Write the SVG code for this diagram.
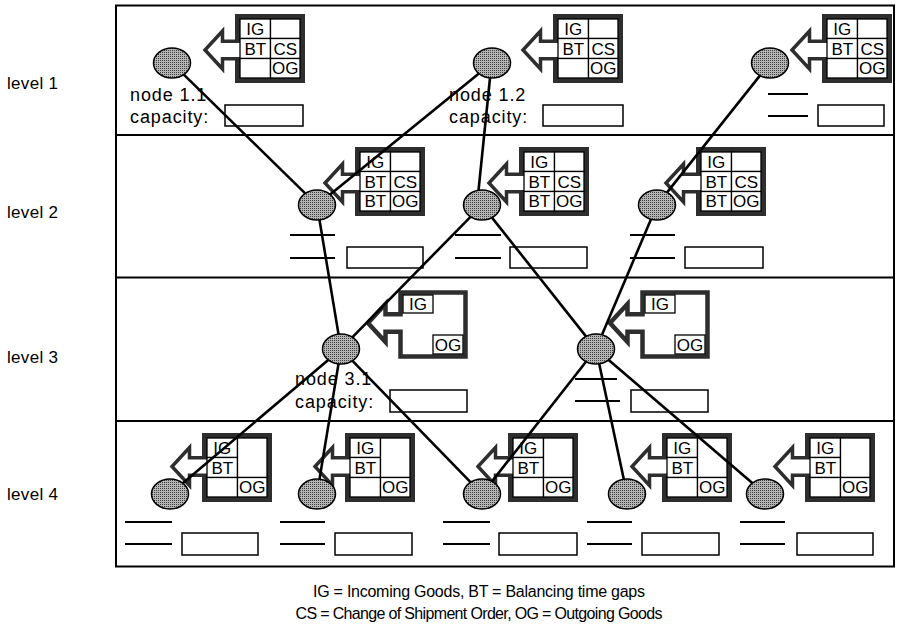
<svg xmlns="http://www.w3.org/2000/svg" width="904" height="628" viewBox="0 0 904 628">
<defs>
<pattern id="dots" width="2" height="2" patternUnits="userSpaceOnUse"><rect width="2" height="2" fill="#b4b4b4"/><rect width="1" height="1" fill="#404040"/></pattern>
<style>
text{font-family:"Liberation Sans",Arial,sans-serif;fill:#000}
.lvl{font-size:17px;letter-spacing:0.3px}
.nl{font-size:18px;letter-spacing:0.9px}
.ct{font-size:17px;text-anchor:middle}
.lg{font-size:16px;text-anchor:middle}
.band{fill:#fff;stroke:#2e2e2e;stroke-width:5}
.arw{fill:#fff;stroke:#2e2e2e;stroke-width:3.5;stroke-linejoin:miter}
.b3{fill:#fff;stroke:#2e2e2e;stroke-width:4.5;stroke-linejoin:miter}
.cell{fill:#fff;stroke:#000;stroke-width:1.3}
.cap{fill:#fff;stroke:#000;stroke-width:1.5}
.bl{stroke:#000;stroke-width:1.8}
.nd{fill:url(#dots);stroke:#000;stroke-width:1.5}
.frame{fill:none;stroke:#000;stroke-width:2}
#connectors line{stroke:#000;stroke-width:2.6;stroke-linecap:butt}
</style>
</defs>
<rect width="904" height="628" fill="#fff"/>
<g id="frame">
<rect class="frame" x="116" y="5.5" width="778" height="561"/>
<line class="frame" x1="116" y1="135" x2="894" y2="135"/>
<line class="frame" x1="116" y1="277.5" x2="894" y2="277.5"/>
<line class="frame" x1="116" y1="421" x2="894" y2="421"/>
</g>
<g id="level-labels">
<text class="lvl" x="7" y="89">level 1</text>
<text class="lvl" x="7" y="218">level 2</text>
<text class="lvl" x="7" y="363">level 3</text>
<text class="lvl" x="7" y="500">level 4</text>
</g>

<!-- level 1 -->
<g id="node-1-1">
<g transform="translate(235,14)">
<rect class="band" x="2.5" y="2.5" width="65" height="64"/>
<path class="arw" d="M5,27.3 H-12.5 V17 L-30,36 L-12.5,55 V44.7 H5"/>
<rect class="cell" x="5" y="5" width="30.5" height="19.5"/><rect class="cell" x="35.5" y="5" width="29.5" height="19.5"/>
<rect class="cell" x="5" y="24.5" width="30.5" height="20"/><rect class="cell" x="35.5" y="24.5" width="29.5" height="20"/>
<rect class="cell" x="5" y="44.5" width="30.5" height="19.5"/><rect class="cell" x="35.5" y="44.5" width="29.5" height="19.5"/>
<text class="ct" x="20.25" y="20.8">IG</text><text class="ct" x="20.25" y="40.6">BT</text><text class="ct" x="50.25" y="40.6">CS</text><text class="ct" x="50.25" y="60.3">OG</text>
</g>
<text class="nl" x="130" y="101">node 1.1</text>
<text class="nl" x="130" y="123">capacity:</text>
<rect class="cap" x="225" y="105" width="78" height="21"/>
<ellipse class="nd" cx="172" cy="63" rx="18.5" ry="15"/>
</g>
<g id="node-1-2">
<g transform="translate(553,14)">
<rect class="band" x="2.5" y="2.5" width="65" height="64"/>
<path class="arw" d="M5,27.3 H-12.5 V17 L-30,36 L-12.5,55 V44.7 H5"/>
<rect class="cell" x="5" y="5" width="30.5" height="19.5"/><rect class="cell" x="35.5" y="5" width="29.5" height="19.5"/>
<rect class="cell" x="5" y="24.5" width="30.5" height="20"/><rect class="cell" x="35.5" y="24.5" width="29.5" height="20"/>
<rect class="cell" x="5" y="44.5" width="30.5" height="19.5"/><rect class="cell" x="35.5" y="44.5" width="29.5" height="19.5"/>
<text class="ct" x="20.25" y="20.8">IG</text><text class="ct" x="20.25" y="40.6">BT</text><text class="ct" x="50.25" y="40.6">CS</text><text class="ct" x="50.25" y="60.3">OG</text>
</g>
<text class="nl" x="449" y="101">node 1.2</text>
<text class="nl" x="449" y="123">capacity:</text>
<rect class="cap" x="543" y="105" width="80" height="21"/>
<ellipse class="nd" cx="492" cy="63" rx="18.5" ry="15"/>
</g>
<g id="node-1-3">
<g transform="translate(822,14)">
<rect class="band" x="2.5" y="2.5" width="65" height="64"/>
<path class="arw" d="M5,27.3 H-12.5 V17 L-30,36 L-12.5,55 V44.7 H5"/>
<rect class="cell" x="5" y="5" width="30.5" height="19.5"/><rect class="cell" x="35.5" y="5" width="29.5" height="19.5"/>
<rect class="cell" x="5" y="24.5" width="30.5" height="20"/><rect class="cell" x="35.5" y="24.5" width="29.5" height="20"/>
<rect class="cell" x="5" y="44.5" width="30.5" height="19.5"/><rect class="cell" x="35.5" y="44.5" width="29.5" height="19.5"/>
<text class="ct" x="20.25" y="20.8">IG</text><text class="ct" x="20.25" y="40.6">BT</text><text class="ct" x="50.25" y="40.6">CS</text><text class="ct" x="50.25" y="60.3">OG</text>
</g>
<line class="bl" x1="768" y1="94" x2="808" y2="94"/>
<line class="bl" x1="768" y1="116" x2="808" y2="116"/>
<rect class="cap" x="818" y="105" width="66" height="21"/>
<ellipse class="nd" cx="770" cy="63" rx="18.5" ry="15"/>
</g>

<!-- level 2 -->
<g id="node-2-1">
<g transform="translate(355,147)">
<rect class="band" x="2.5" y="2.5" width="65" height="64"/>
<path class="arw" d="M5,27.3 H-12.5 V17 L-30,36 L-12.5,55 V44.7 H5"/>
<rect class="cell" x="5" y="5" width="30.5" height="19.5"/><rect class="cell" x="35.5" y="5" width="29.5" height="19.5"/>
<rect class="cell" x="5" y="24.5" width="30.5" height="20"/><rect class="cell" x="35.5" y="24.5" width="29.5" height="20"/>
<rect class="cell" x="5" y="44.5" width="30.5" height="19.5"/><rect class="cell" x="35.5" y="44.5" width="29.5" height="19.5"/>
<text class="ct" x="20.25" y="20.8">IG</text><text class="ct" x="20.25" y="40.6">BT</text><text class="ct" x="50.25" y="40.6">CS</text><text class="ct" x="20.25" y="60.3">BT</text><text class="ct" x="50.25" y="60.3">OG</text>
</g>
<line class="bl" x1="290" y1="235" x2="335" y2="235"/>
<line class="bl" x1="290" y1="258" x2="335" y2="258"/>
<rect class="cap" x="347" y="247" width="76" height="21"/>
<ellipse class="nd" cx="317" cy="205" rx="18.5" ry="15"/>
</g>
<g id="node-2-2">
<g transform="translate(519,147)">
<rect class="band" x="2.5" y="2.5" width="65" height="64"/>
<path class="arw" d="M5,27.3 H-12.5 V17 L-30,36 L-12.5,55 V44.7 H5"/>
<rect class="cell" x="5" y="5" width="30.5" height="19.5"/><rect class="cell" x="35.5" y="5" width="29.5" height="19.5"/>
<rect class="cell" x="5" y="24.5" width="30.5" height="20"/><rect class="cell" x="35.5" y="24.5" width="29.5" height="20"/>
<rect class="cell" x="5" y="44.5" width="30.5" height="19.5"/><rect class="cell" x="35.5" y="44.5" width="29.5" height="19.5"/>
<text class="ct" x="20.25" y="20.8">IG</text><text class="ct" x="20.25" y="40.6">BT</text><text class="ct" x="50.25" y="40.6">CS</text><text class="ct" x="20.25" y="60.3">BT</text><text class="ct" x="50.25" y="60.3">OG</text>
</g>
<line class="bl" x1="455" y1="235" x2="501" y2="235"/>
<line class="bl" x1="455" y1="258" x2="501" y2="258"/>
<rect class="cap" x="510" y="247" width="77" height="21"/>
<ellipse class="nd" cx="482" cy="205" rx="18.5" ry="15"/>
</g>
<g id="node-2-3">
<g transform="translate(696,147)">
<rect class="band" x="2.5" y="2.5" width="65" height="64"/>
<path class="arw" d="M5,27.3 H-12.5 V17 L-30,36 L-12.5,55 V44.7 H5"/>
<rect class="cell" x="5" y="5" width="30.5" height="19.5"/><rect class="cell" x="35.5" y="5" width="29.5" height="19.5"/>
<rect class="cell" x="5" y="24.5" width="30.5" height="20"/><rect class="cell" x="35.5" y="24.5" width="29.5" height="20"/>
<rect class="cell" x="5" y="44.5" width="30.5" height="19.5"/><rect class="cell" x="35.5" y="44.5" width="29.5" height="19.5"/>
<text class="ct" x="20.25" y="20.8">IG</text><text class="ct" x="20.25" y="40.6">BT</text><text class="ct" x="50.25" y="40.6">CS</text><text class="ct" x="20.25" y="60.3">BT</text><text class="ct" x="50.25" y="60.3">OG</text>
</g>
<line class="bl" x1="630" y1="235" x2="675" y2="235"/>
<line class="bl" x1="630" y1="258" x2="675" y2="258"/>
<rect class="cap" x="685" y="247" width="78" height="21"/>
<ellipse class="nd" cx="657" cy="205" rx="18.5" ry="15"/>
</g>

<!-- level 3 -->
<g id="node-3-1">
<g transform="translate(398,290)">
<path class="b3" d="M2.5,2.5 H67.5 V66.5 H2.5 V41.7 H-12.5 V52 L-30,33 L-12.5,14 V24.3 H2.5 Z"/>
<rect class="cell" x="5" y="5" width="30" height="18"/>
<rect class="cell" x="35" y="45" width="30" height="19"/>
<text class="ct" x="20" y="20.3">IG</text><text class="ct" x="50" y="60.8">OG</text>
</g>
<text class="nl" x="295" y="385">node 3.1</text>
<text class="nl" x="295" y="408">capacity:</text>
<rect class="cap" x="390" y="390" width="77" height="22"/>
<ellipse class="nd" cx="341" cy="349" rx="18.5" ry="15"/>
</g>
<g id="node-3-2">
<g transform="translate(640,290)">
<path class="b3" d="M2.5,2.5 H67.5 V66.5 H2.5 V41.7 H-12.5 V52 L-30,33 L-12.5,14 V24.3 H2.5 Z"/>
<rect class="cell" x="5" y="5" width="30" height="18"/>
<rect class="cell" x="35" y="45" width="30" height="19"/>
<text class="ct" x="20" y="20.3">IG</text><text class="ct" x="50" y="60.8">OG</text>
</g>
<line class="bl" x1="575" y1="379" x2="617" y2="379"/>
<line class="bl" x1="575" y1="401" x2="620" y2="401"/>
<rect class="cap" x="631" y="390" width="77" height="22"/>
<ellipse class="nd" cx="596" cy="349" rx="18.5" ry="15"/>
</g>

<!-- level 4 -->
<g id="node-4-1">
<g transform="translate(202,433)">
<rect class="band" x="2.5" y="2.5" width="65" height="64"/>
<path class="arw" d="M5,24.8 H-12.5 V14.5 L-30,33.5 L-12.5,52.5 V42.2 H5"/>
<rect class="cell" x="5" y="5" width="30.5" height="19.5"/><rect class="cell" x="5" y="24.5" width="30.5" height="20"/><rect class="cell" x="5" y="44.5" width="30.5" height="19.5"/>
<rect class="cell" x="35.5" y="5" width="29.5" height="39.5"/><rect class="cell" x="35.5" y="44.5" width="29.5" height="19.5"/>
<text class="ct" x="20.25" y="20.8">IG</text><text class="ct" x="20.25" y="40.6">BT</text><text class="ct" x="50.25" y="60.3">OG</text>
</g>
<line class="bl" x1="125" y1="522" x2="172" y2="522"/>
<line class="bl" x1="125" y1="544" x2="172" y2="544"/>
<rect class="cap" x="182" y="533" width="76" height="22"/>
<ellipse class="nd" cx="170" cy="494" rx="18.5" ry="15"/>
</g>
<g id="node-4-2">
<g transform="translate(345,433)">
<rect class="band" x="2.5" y="2.5" width="65" height="64"/>
<path class="arw" d="M5,24.8 H-12.5 V14.5 L-30,33.5 L-12.5,52.5 V42.2 H5"/>
<rect class="cell" x="5" y="5" width="30.5" height="19.5"/><rect class="cell" x="5" y="24.5" width="30.5" height="20"/><rect class="cell" x="5" y="44.5" width="30.5" height="19.5"/>
<rect class="cell" x="35.5" y="5" width="29.5" height="39.5"/><rect class="cell" x="35.5" y="44.5" width="29.5" height="19.5"/>
<text class="ct" x="20.25" y="20.8">IG</text><text class="ct" x="20.25" y="40.6">BT</text><text class="ct" x="50.25" y="60.3">OG</text>
</g>
<line class="bl" x1="280" y1="522" x2="325" y2="522"/>
<line class="bl" x1="280" y1="544" x2="325" y2="544"/>
<rect class="cap" x="335" y="533" width="77" height="22"/>
<ellipse class="nd" cx="317" cy="494" rx="18.5" ry="15"/>
</g>
<g id="node-4-3">
<g transform="translate(508,433)">
<rect class="band" x="2.5" y="2.5" width="65" height="64"/>
<path class="arw" d="M5,24.8 H-12.5 V14.5 L-30,33.5 L-12.5,52.5 V42.2 H5"/>
<rect class="cell" x="5" y="5" width="30.5" height="19.5"/><rect class="cell" x="5" y="24.5" width="30.5" height="20"/><rect class="cell" x="5" y="44.5" width="30.5" height="19.5"/>
<rect class="cell" x="35.5" y="5" width="29.5" height="39.5"/><rect class="cell" x="35.5" y="44.5" width="29.5" height="19.5"/>
<text class="ct" x="20.25" y="20.8">IG</text><text class="ct" x="20.25" y="40.6">BT</text><text class="ct" x="50.25" y="60.3">OG</text>
</g>
<line class="bl" x1="443" y1="522" x2="490" y2="522"/>
<line class="bl" x1="443" y1="544" x2="490" y2="544"/>
<rect class="cap" x="499" y="533" width="78" height="22"/>
<ellipse class="nd" cx="482" cy="494" rx="18.5" ry="15"/>
</g>
<g id="node-4-4">
<g transform="translate(662,433)">
<rect class="band" x="2.5" y="2.5" width="65" height="64"/>
<path class="arw" d="M5,24.8 H-12.5 V14.5 L-30,33.5 L-12.5,52.5 V42.2 H5"/>
<rect class="cell" x="5" y="5" width="30.5" height="19.5"/><rect class="cell" x="5" y="24.5" width="30.5" height="20"/><rect class="cell" x="5" y="44.5" width="30.5" height="19.5"/>
<rect class="cell" x="35.5" y="5" width="29.5" height="39.5"/><rect class="cell" x="35.5" y="44.5" width="29.5" height="19.5"/>
<text class="ct" x="20.25" y="20.8">IG</text><text class="ct" x="20.25" y="40.6">BT</text><text class="ct" x="50.25" y="60.3">OG</text>
</g>
<line class="bl" x1="587" y1="522" x2="632" y2="522"/>
<line class="bl" x1="587" y1="544" x2="632" y2="544"/>
<rect class="cap" x="642" y="533" width="77" height="22"/>
<ellipse class="nd" cx="627" cy="494" rx="18.5" ry="15"/>
</g>
<g id="node-4-5">
<g transform="translate(805,433)">
<rect class="band" x="2.5" y="2.5" width="65" height="64"/>
<path class="arw" d="M5,24.8 H-12.5 V14.5 L-30,33.5 L-12.5,52.5 V42.2 H5"/>
<rect class="cell" x="5" y="5" width="30.5" height="19.5"/><rect class="cell" x="5" y="24.5" width="30.5" height="20"/><rect class="cell" x="5" y="44.5" width="30.5" height="19.5"/>
<rect class="cell" x="35.5" y="5" width="29.5" height="39.5"/><rect class="cell" x="35.5" y="44.5" width="29.5" height="19.5"/>
<text class="ct" x="20.25" y="20.8">IG</text><text class="ct" x="20.25" y="40.6">BT</text><text class="ct" x="50.25" y="60.3">OG</text>
</g>
<line class="bl" x1="740" y1="522" x2="785" y2="522"/>
<line class="bl" x1="740" y1="544" x2="785" y2="544"/>
<rect class="cap" x="797" y="533" width="76" height="22"/>
<ellipse class="nd" cx="765" cy="494" rx="18.5" ry="15"/>
</g>

<g id="connectors">
<line x1="183.8" y1="74.6" x2="305.2" y2="193.4"/>
<line x1="478.9" y1="73.6" x2="330.1" y2="194.4"/>
<line x1="490" y1="78" x2="478.5" y2="190.5"/>
<line x1="759.9" y1="75.6" x2="667.1" y2="192.4"/>
<line x1="319.5" y1="219.9" x2="338.5" y2="334.1"/>
<line x1="470.5" y1="216.8" x2="352.5" y2="337.2"/>
<line x1="492" y1="217.6" x2="586" y2="336.4"/>
<line x1="651" y1="219.2" x2="602" y2="334.8"/>
<line x1="328.2" y1="359.9" x2="182.8" y2="483.2"/>
<line x1="338.5" y1="363.9" x2="319.5" y2="479.1"/>
<line x1="352.5" y1="360.8" x2="470.5" y2="482.2"/>
<line x1="586" y1="361.7" x2="492" y2="481.4"/>
<line x1="599.2" y1="363.8" x2="623.8" y2="479.2"/>
<line x1="608.7" y1="359.9" x2="752.3" y2="483.1"/>
</g>

<g id="legend">
<text class="lg" x="479" y="597" textLength="332" lengthAdjust="spacing">IG = Incoming Goods, BT = Balancing time gaps</text>
<text class="lg" x="479" y="619" textLength="367" lengthAdjust="spacing">CS = Change of Shipment Order, OG = Outgoing Goods</text>
</g>
</svg>
